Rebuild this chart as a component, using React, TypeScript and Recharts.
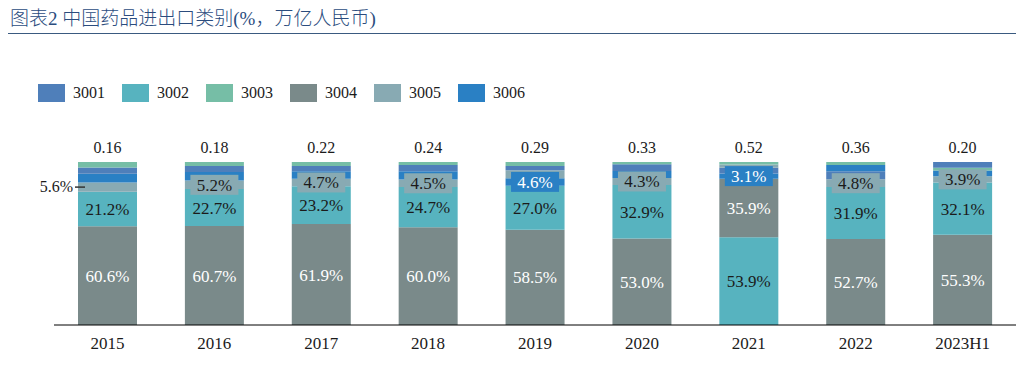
import React from 'react';
import { BarChart, Bar, XAxis, YAxis, Cell, LabelList } from 'recharts';

const categories = ['2015', '2016', '2017', '2018', '2019', '2020', '2021', '2022', '2023H1'];
const totals = ['0.16', '0.18', '0.22', '0.24', '0.29', '0.33', '0.52', '0.36', '0.20'];
const codes = ['3001', '3002', '3003', '3004', '3005', '3006'];

const v3001 = [3.8, 3.6, 3.3, 3.7, 2.6, 4.1, 3.5, 4.9, 3.5];
const v3002 = [21.2, 22.7, 23.2, 24.7, 27.0, 32.9, 53.9, 31.9, 32.1];
const v3003 = [3.4, 2.5, 2.4, 1.9, 2.5, 1.4, 1.6, 1.8, 1.7];
const v3004 = [60.6, 60.7, 61.9, 60.0, 58.5, 53.0, 35.9, 52.7, 55.3];
const v3005 = [5.6, 5.2, 4.7, 4.5, 4.8, 4.3, 2.0, 4.8, 3.9];
const v3006 = [5.4, 5.3, 4.5, 5.2, 4.6, 4.3, 3.1, 3.9, 3.5];

// stacking order per category, bottom -> top
const stackOrder = [
  ['3004', '3002', '3005', '3006', '3001', '3003'],
  ['3004', '3002', '3005', '3006', '3001', '3003'],
  ['3004', '3002', '3005', '3006', '3001', '3003'],
  ['3004', '3002', '3005', '3006', '3001', '3003'],
  ['3004', '3002', '3006', '3005', '3001', '3003'],
  ['3004', '3002', '3005', '3006', '3001', '3003'],
  ['3002', '3004', '3006', '3001', '3005', '3003'],
  ['3004', '3002', '3005', '3001', '3006', '3003'],
  ['3004', '3002', '3005', '3006', '3003', '3001'],
];

const colorOf: Record<string, string> = {
  '3001': '#4F7FBA',
  '3002': '#57B3BF',
  '3003': '#76BEA6',
  '3004': '#7A8A8A',
  '3005': '#88AAB3',
  '3006': '#2A80C4',
};
const lightText: Record<string, boolean> = {
  '3001': true, '3002': false, '3003': false, '3004': true, '3005': false, '3006': true,
};

const valuesByCode: Record<string, number[]> = {
  '3001': v3001, '3002': v3002, '3003': v3003, '3004': v3004, '3005': v3005, '3006': v3006,
};

const data = categories.map((cat, i) => {
  const row: any = { cat, total: totals[i] };
  stackOrder[i].forEach((code, k) => {
    row['r' + (k + 1)] = valuesByCode[code][i];
    row['c' + (k + 1)] = code;
  });
  return row;
});

const SERIF = '"Liberation Serif", "Times New Roman", serif';
const TITLE_FONT = '"Liberation Serif", "Noto Sans CJK SC", serif';
const DARK = '#1b1b1b';

const innerLabel = (k: number) => (props: any) => {
  const { x, y, width, height, index } = props;
  const row = data[index];
  if (!row) return null;
  const code = row['c' + k];
  const cx = Number(x) + Number(width) / 2;
  const cy = Number(y) + Number(height) / 2;
  return (
    <text x={cx} y={cy + 6} textAnchor="middle" fontSize={17} fontFamily={SERIF}
      fill={lightText[code] ? '#ffffff' : DARK}>
      {Number(row['r' + k]).toFixed(1) + '%'}
    </text>
  );
};

const boxLabel = (props: any) => {
  const { x, y, width, height, index } = props;
  const row = data[index];
  if (!row) return null;
  const code = row['c3'];
  const txt = Number(row['r3']).toFixed(1) + '%';
  const nx = Number(x), nw = Number(width);
  const cx = nx + nw / 2;
  const cy = Number(y) + Number(height) / 2;
  if (index === 0) {
    return (
      <g>
        <line x1={nx - 3} x2={nx + 7} y1={cy} y2={cy} stroke="#333" strokeWidth={1.5} />
        <text x={nx - 5} y={cy + 5} textAnchor="end" fontSize={16} fontFamily={SERIF} fill={DARK}>{txt}</text>
      </g>
    );
  }
  return (
    <g>
      <rect x={cx - 24} y={cy - 10} width={48} height={20} fill={colorOf[code]} />
      <text x={cx} y={cy + 6} textAnchor="middle" fontSize={17} fontFamily={SERIF}
        fill={lightText[code] ? '#ffffff' : DARK}>{txt}</text>
    </g>
  );
};

const totalLabel = (props: any) => {
  const { x, y, width, index } = props;
  const row = data[index];
  if (!row) return null;
  return (
    <text x={Number(x) + Number(width) / 2} y={Number(y) - 9} textAnchor="middle" fontSize={16}
      fontFamily={SERIF} fill={DARK}>{row.total}</text>
  );
};

const CatTick = (props: any) => {
  const { x, payload } = props;
  return (
    <text x={x} y={349} textAnchor="middle" fontSize={17} fontFamily={SERIF} fill={DARK}>
      {payload.value}
    </text>
  );
};

export default function App() {
  return (
    <div style={{ position: 'absolute', left: 0, top: 0, width: 1022, height: 370, background: '#fff', overflow: 'hidden' }}>
      <div style={{ position: 'absolute', left: 10, top: 8, fontSize: 19, fontWeight: 300, fontFamily: TITLE_FONT, color: '#2B4C7E', whiteSpace: 'nowrap', lineHeight: '22px' }}>
        图表2 中国药品进出口类别(%，万亿人民币)
      </div>
      <div style={{ position: 'absolute', left: 8, top: 33, width: 1008, height: 1, background: '#3A5A80' }} />
      {codes.map((code, i) => (
        <div key={code} style={{ position: 'absolute', left: 38 + i * 84, top: 83, height: 20, display: 'flex', alignItems: 'center' }}>
          <div style={{ width: 27, height: 18, background: colorOf[code] }} />
          <span style={{ marginLeft: 8, fontSize: 16, fontFamily: SERIF, color: DARK }}>{code}</span>
        </div>
      ))}
      <div style={{ position: 'absolute', left: 0, top: 0 }}>
        <BarChart width={1022} height={370} data={data} margin={{ top: 162, right: 6, bottom: 15, left: 54 }}>
          <XAxis dataKey="cat" height={30} axisLine={{ stroke: '#000', strokeWidth: 1 }} tickLine={false} tick={<CatTick />} interval={0} />
          <YAxis hide domain={[0, 100]} allowDataOverflow />
          {[1, 2, 3, 4, 5, 6].map((k) => (
            <Bar key={k} dataKey={'r' + k} stackId="s" barSize={59} isAnimationActive={false}>
              {data.map((row, i) => (
                <Cell key={i} fill={colorOf[row['c' + k]]} />
              ))}
              {k === 1 || k === 2 ? <LabelList dataKey={'r' + k} content={innerLabel(k)} /> : null}
              {k === 3 ? <LabelList dataKey="r3" content={boxLabel} /> : null}
              {k === 6 ? <LabelList dataKey="r6" content={totalLabel} /> : null}
            </Bar>
          ))}
        </BarChart>
      </div>
    </div>
  );
}
